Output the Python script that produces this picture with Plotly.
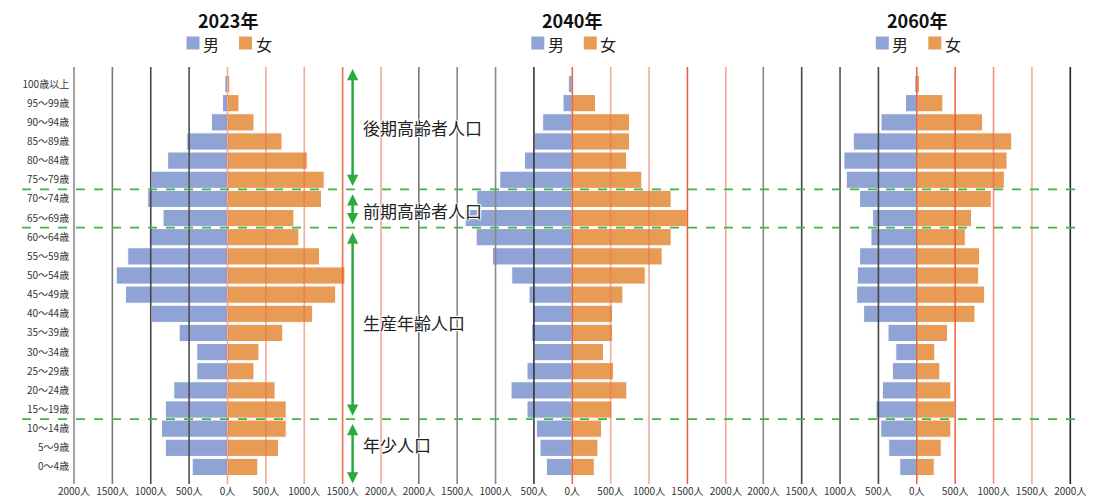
import plotly.graph_objects as go

# ---------------- data (bottom -> top) ----------------
age_groups = ["0～4歳", "5～9歳", "10～14歳", "15～19歳", "20～24歳", "25～29歳",
              "30～34歳", "35～39歳", "40～44歳", "45～49歳", "50～54歳", "55～59歳",
              "60～64歳", "65～69歳", "70～74歳", "75～79歳", "80～84歳", "85～89歳",
              "90～94歳", "95～99歳", "100歳以上"]

years = ["2023年", "2040年", "2060年"]

male_2023 = [460, 810, 860, 810, 700, 400, 400, 630, 990, 1330, 1450, 1300,
             1020, 840, 1040, 990, 780, 530, 210, 65, 35]
female_2023 = [395, 665, 765, 765, 620, 345, 410, 720, 1110, 1410, 1530, 1200,
               930, 865, 1225, 1260, 1040, 710, 345, 150, 30]

male_2040 = [338, 421, 468, 590, 798, 590, 494, 529, 520, 564, 789, 1041,
             1253, 1396, 1245, 945, 624, 494, 386, 121, 52]
female_2040 = [286, 334, 382, 516, 711, 538, 408, 525, 525, 659, 950, 1171,
               1288, 1496, 1288, 906, 707, 746, 746, 304, 15]

male_2060 = [222, 366, 470, 531, 449, 318, 274, 375, 693, 784, 775, 745,
             597, 575, 745, 919, 950, 828, 466, 148, 26]
female_2060 = [227, 318, 444, 492, 444, 301, 235, 401, 758, 884, 806, 819,
               632, 714, 971, 1141, 1176, 1237, 858, 340, 35]

x_tick_values = [-2000, -1500, -1000, -500, 0, 500, 1000, 1500, 2000]
x_tick_labels = ["2000人", "1500人", "1000人", "500人", "0人", "500人", "1000人", "1500人", "2000人"]

group_labels = ["後期高齢者人口", "前期高齢者人口", "生産年齢人口", "年少人口"]
legend_names = ["男", "女"]

# ---------------- styles ----------------
OFF = 8                      # page body margin
W, H = 1096 - OFF, 501 - OFF
PLOT_TOP, PLOT_BOT = 67, 484  # screen px
PLOT_H = PLOT_BOT - PLOT_TOP
FONT = "Noto Sans CJK JP"
BLUE = "#8FA3D5"
ORANGE = "#E89B54"
GREEN = "#2BAA3E"
zero_px = [227.5, 572.3, 916.8]          # screen px of 0 in each panel
px_per_unit = 307.0 / 4000.0
half_range = 2050


def px_x(sx):
    return (sx - OFF) / W


def px_y(sy):
    return 1 + (PLOT_TOP - sy) / PLOT_H


line_colors = [
    ["#8a8a8a", "#7a7a7a", "#4a4a4a", "#505050", "rgba(236,110,80,0.6)",
     "rgba(236,110,80,0.6)", "rgba(236,110,80,0.6)", "rgba(232,90,50,0.85)", "rgba(236,110,80,0.6)"],
    ["#777777", "#888888", "#888888", "#333333", "rgba(232,90,50,0.9)",
     "rgba(236,110,80,0.55)", "rgba(236,110,80,0.6)", "rgba(232,90,50,0.95)", "rgba(236,110,80,0.6)"],
    ["#888888", "#444444", "#555555", "#444444", "rgba(232,90,50,0.9)",
     "rgba(232,90,50,0.9)", "rgba(236,110,80,0.75)", "rgba(240,140,110,0.7)", "#222222"],
]

idx = list(range(len(age_groups)))
data = [(male_2023, female_2023), (male_2040, female_2040), (male_2060, female_2060)]

fig = go.Figure()
layout = dict()
shapes = []
annotations = []

y_range = [-0.89, 20.89]

for i, (year, (m, f)) in enumerate(zip(years, data)):
    xa = "x" if i == 0 else f"x{i+1}"
    ya = "y" if i == 0 else f"y{i+1}"
    xkey = "xaxis" if i == 0 else f"xaxis{i+1}"
    ykey = "yaxis" if i == 0 else f"yaxis{i+1}"

    fig.add_trace(go.Bar(y=idx, x=[-v for v in m], orientation="h", name=legend_names[0],
                         marker=dict(color=BLUE, line=dict(color="white", width=1)),
                         xaxis=xa, yaxis=ya, showlegend=False))
    fig.add_trace(go.Bar(y=idx, x=f, orientation="h", name=legend_names[1],
                         marker=dict(color=ORANGE, line=dict(color="white", width=1)),
                         xaxis=xa, yaxis=ya, showlegend=False))

    z = zero_px[i]
    d0 = px_x(z - half_range * px_per_unit)
    d1 = px_x(z + half_range * px_per_unit)
    layout[xkey] = dict(domain=[d0, d1], range=[-half_range, half_range], anchor=ya,
                        tickmode="array", tickvals=x_tick_values, ticktext=x_tick_labels,
                        showgrid=False, zeroline=False, showline=False, ticks="",
                        automargin=False,
                        tickfont=dict(family=FONT, size=10, color="#333333"),
                        fixedrange=True)
    layout[ykey] = dict(domain=[0, 1], range=y_range, anchor=xa,
                        tickmode="array", tickvals=idx, ticktext=age_groups,
                        showticklabels=(i == 0), showgrid=False, zeroline=False,
                        showline=False, ticks="", automargin=False,
                        tickfont=dict(family=FONT, size=10, color="#333333"),
                        fixedrange=True)

    for tv, col in zip(x_tick_values, line_colors[i]):
        shapes.append(dict(type="line", xref=xa, yref=f"{ya} domain", x0=tv, x1=tv,
                           y0=0, y1=1, layer="above", line=dict(color=col, width=1.6)))

    # title
    annotations.append(dict(text=f"<b>{year}</b>", xref="paper", yref="paper",
                            x=px_x(z), y=px_y(19.5), xanchor="center", yanchor="middle",
                            showarrow=False, font=dict(family=FONT, size=18, color="#111111")))
    # legend swatches + labels
    for off_sq, off_tx, col, name in [(-34.5, -16.5, BLUE, legend_names[0]),
                                      (18, 36, ORANGE, legend_names[1])]:
        shapes.append(dict(type="rect", xref="paper", yref="paper",
                           x0=px_x(z + off_sq - 6.5), x1=px_x(z + off_sq + 6.5),
                           y0=px_y(49.5), y1=px_y(36.5), fillcolor=col, line=dict(width=0)))
        annotations.append(dict(text=name, xref="paper", yref="paper",
                                x=px_x(z + off_tx), y=px_y(44), xanchor="center",
                                yanchor="middle", showarrow=False,
                                font=dict(family=FONT, size=16, color="#222222")))

# green dashed boundaries
for yb in [14.5, 12.5, 2.5]:
    shapes.append(dict(type="line", xref="paper", yref="y", x0=px_x(22), x1=px_x(1076),
                       y0=yb, y1=yb, layer="above",
                       line=dict(color="#3DB54A", width=1.6, dash="dash")))

# double headed arrows
arrow_x = 1630
for (ya0, ya1) in [(20.86, 14.68), (14.32, 12.68), (12.32, 2.68), (2.32, -0.86)]:
    annotations.append(dict(text="", x=arrow_x, y=ya1, ax=arrow_x, ay=ya0,
                            xref="x", yref="y", axref="x", ayref="y",
                            showarrow=True, arrowhead=2, startarrowhead=2,
                            arrowside="end+start", arrowsize=0.9, startarrowsize=0.9,
                            arrowwidth=2.5, arrowcolor=GREEN))

shadow = "1px 1px 1px #fff, -1px -1px 1px #fff, 1px -1px 1px #fff, -1px 1px 1px #fff"
for label, yl in zip(group_labels, [17.75, 13.4, 7.57, 1.15]):
    annotations.append(dict(text=label, xref="paper", yref="y", x=px_x(361), y=yl,
                            xanchor="left", yanchor="middle", showarrow=False,
                            font=dict(family=FONT, size=17, color="#222222", shadow=shadow)))

fig.update_layout(
    width=W, height=H,
    margin=dict(l=0, r=0, t=PLOT_TOP - OFF, b=H - (PLOT_BOT - OFF), autoexpand=False),
    paper_bgcolor="white", plot_bgcolor="rgba(0,0,0,0)",
    barmode="overlay", bargap=0.1,
    shapes=shapes, annotations=annotations,
    font=dict(family=FONT),
    **layout,
)

fig.write_html("out.html")
